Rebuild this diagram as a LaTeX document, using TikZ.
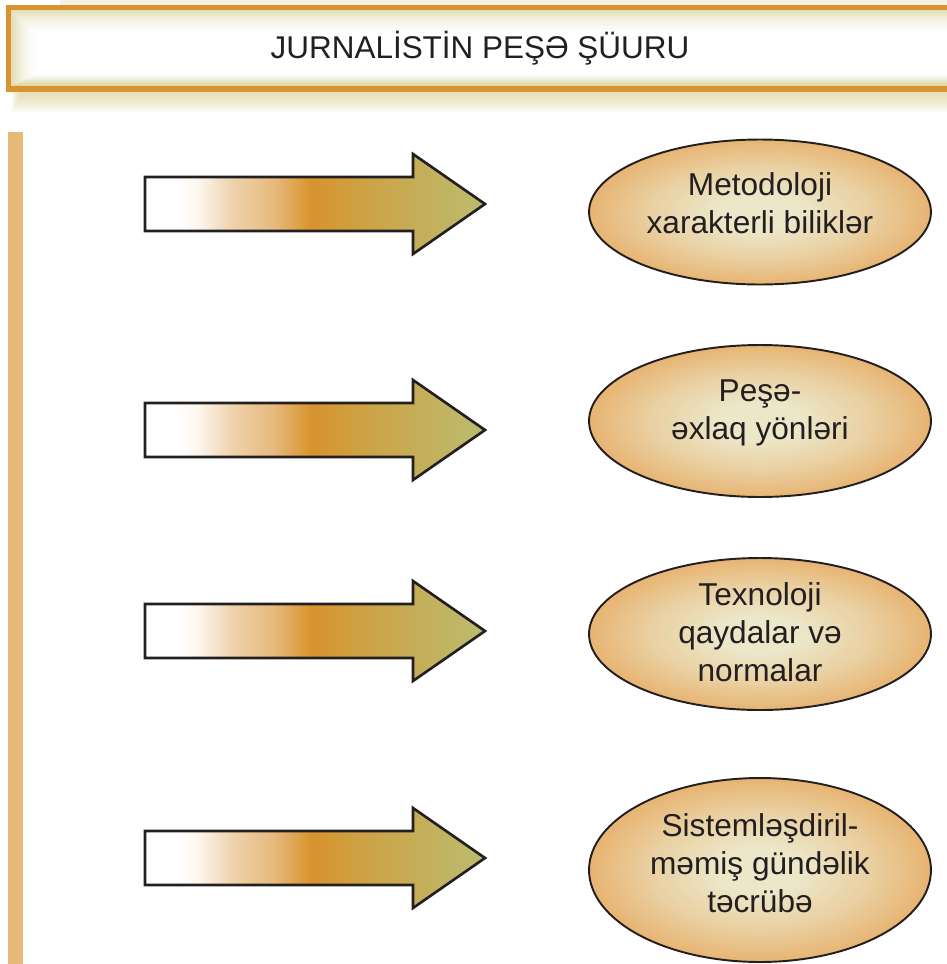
\documentclass[tikz,border=0pt]{standalone}
\usepackage{fontspec}
\setmainfont{Liberation Sans}
\usepackage{tikz}
\usetikzlibrary{shapes.geometric}

\definecolor{frameorange}{HTML}{D99330}
\definecolor{glowbeige}{HTML}{DCD6A2}
\definecolor{barorange}{HTML}{E8B878}
\definecolor{ellcenter}{HTML}{ECE7C9}
\definecolor{elledge}{HTML}{E7B472}
\definecolor{inkdark}{HTML}{231F20}
\definecolor{arrowtan}{HTML}{E6B97C}
\definecolor{arroworange}{HTML}{D8932C}
\definecolor{arrowolive}{HTML}{BDB96B}

\pgfdeclarehorizontalshading{arrowshade}{100bp}{color(0bp)=(white); color(30bp)=(white); color(33bp)=(white!85!arrowtan); color(38bp)=(arrowtan!65!white); color(44bp)=(arrowtan); color(49.5bp)=(arroworange); color(57bp)=(arroworange!60!arrowolive); color(73bp)=(arrowolive); color(100bp)=(arrowolive)}
\pgfdeclareradialshading{ellshade}{\pgfpoint{0bp}{0bp}}{color(0bp)=(ellcenter); color(6bp)=(ellcenter); color(16bp)=(ellcenter!55!elledge); color(25bp)=(elledge); color(50bp)=(elledge)}

\begin{document}
\begin{tikzpicture}[x=0.02cm, y=-0.02cm,
    ellipse box/.style={ellipse, draw=inkdark, line width=1.1pt, shading=ellshade, minimum width=6.84cm},
    ell text/.style={text=inkdark, align=center, font=\fontsize{18}{21.5}\selectfont},
    arrow body/.style={draw=inkdark, line width=1.5pt, line join=miter, shading=arrowshade}]
    \useasboundingbox (0,0) rectangle (947,964);
    \clip (0,0) rectangle (947,964);

    % title frame with its soft shadow and inner glow
    \fill[glowbeige, opacity=0.3] (60,0) rectangle (947,5);
    \foreach \i in {0,...,9}
        \fill[glowbeige, opacity=0.12] (12+\i,92) rectangle (990,112-2*\i);
    \fill[white] (9,8) rectangle (990,89);
    \foreach \i [evaluate=\i as \op using {0.8*(1-\i/14)^2}] in {0,...,13}
        \draw[glowbeige, line width=1.2pt, opacity=\op] (12+2*\i,10+2*\i) rectangle (990,86-\i);
    \draw[frameorange, line width=3.4pt] (8.5,7.5) rectangle (990,89);
    \node[font=\fontsize{17.9}{20}\selectfont, text=inkdark] (title) at (480,48) {JURNALİSTİN PEŞƏ ŞÜURU};

    % left bar
    \fill[barorange] (8,132) rectangle (23,964);

    % arrows
    \foreach \c in {204,430,631,858}
        \draw[arrow body] (145,\c-27) -- (413,\c-27) -- (413,\c-50) -- (485,\c)
            -- (413,\c+50) -- (413,\c+27) -- (145,\c+27) -- cycle;

    % ellipses
    \node[ellipse box, minimum height=2.9cm] (metod) at (760,212) {};
    \node[ell text] (metodtxt) at (760,203) {Metodoloji\\xarakterli biliklər};

    \node[ellipse box, minimum height=3.04cm] (exlaq) at (760,421) {};
    \node[ell text] (exlaqtxt) at (760,413) {Peşə-\\əxlaq yönləri};

    \node[ellipse box, minimum height=3.04cm] (texno) at (760,634) {};
    \node[ell text] (texnotxt) at (760,632) {Texnoloji\\qaydalar və\\normalar};

    \node[ellipse box, minimum height=3.68cm] (tecrube) at (760,870) {};
    \node[ell text] (tecrubetxt) at (760,863) {Sistemləşdiril-\\məmiş gündəlik\\təcrübə};
\end{tikzpicture}
\end{document}
